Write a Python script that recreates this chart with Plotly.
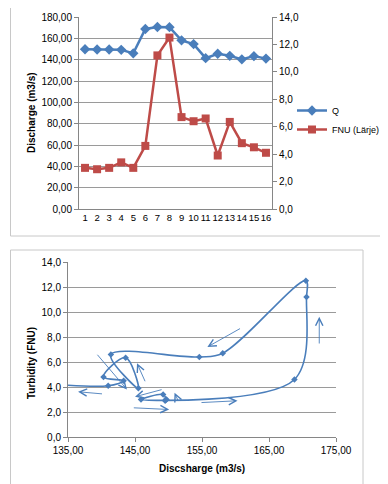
import plotly.graph_objects as go

# ---------------- data ----------------
samples = [1, 2, 3, 4, 5, 6, 7, 8, 9, 10, 11, 12, 13, 14, 15, 16]
q_discharge = [149.7, 149.5, 149.6, 149.2, 145.9, 168.8, 170.6, 170.5,
               158.1, 154.6, 141.4, 145.5, 143.6, 140.3, 143.3, 141.0]
fnu_larje = [3.0, 2.9, 3.0, 3.4, 3.0, 4.6, 11.2, 12.5,
             6.7, 6.4, 6.6, 3.9, 6.35, 4.8, 4.5, 4.1]
# following point of the hysteresis loop (outside the visible x-range)
q_next = [128.0]
fnu_next = [4.45]

# hand-drawn direction arrows on the hysteresis plot (tail -> head)
arrow_tail_q = [160.9, 172.5, 154.7, 151.5, 139.2, 140.3, 146.6, 149.2, 144.6]
arrow_tail_fnu = [8.74, 7.36, 2.75, 2.82, 6.7, 3.44, 4.34, 3.82, 2.34]
arrow_head_q = [155.8, 172.5, 160.3, 150.9, 143.8, 136.5, 145.3, 145.0, 150.1]
arrow_head_fnu = [7.2, 9.62, 2.9, 3.54, 3.8, 3.62, 5.9, 3.22, 2.2]

# the page body has an 8px default margin, so the figure is drawn
# 8px smaller and all screen positions are shifted by it
OFF = 8
W, H = 388 - OFF, 484 - OFF
BLUE = '#4A7EBB'
RED = '#BE4B48'
GRID = '#9a9a9a'
AXIS = '#868686'
FONT = 'Liberation Sans'


def fx(p):
    return (p - OFF) / W


def fy(p):
    return 1 - (p - OFF) / H


fig = go.Figure()

fig.add_trace(go.Scatter(
    x=samples, y=q_discharge, name='Q', mode='lines+markers',
    line=dict(color=BLUE, width=2.5),
    marker=dict(symbol='diamond', size=8, color=BLUE),
    xaxis='x', yaxis='y'))
fig.add_trace(go.Scatter(
    x=samples, y=fnu_larje, name='FNU (Lärje)', mode='lines+markers',
    line=dict(color=RED, width=2.5),
    marker=dict(symbol='square', size=8, color=RED),
    xaxis='x', yaxis='y2'))
fig.add_trace(go.Scatter(
    x=q_discharge + q_next, y=fnu_larje + fnu_next, mode='lines+markers',
    line=dict(color=BLUE, width=1.6, shape='spline', smoothing=1.0),
    marker=dict(symbol='diamond', size=5, color=BLUE),
    showlegend=False, xaxis='x3', yaxis='y3'))

tick_font = dict(family=FONT, size=10, color='#000000')

fig.update_layout(
    width=W, height=H,
    margin=dict(l=0, r=0, t=0, b=0, autoexpand=False),
    paper_bgcolor='white', plot_bgcolor='white',
    separators=', ',
    font=dict(family=FONT, size=10, color='#000000'),
    showlegend=True,
    legend=dict(x=fx(292), y=fy(96), xanchor='left', yanchor='top',
                font=dict(family=FONT, size=9), bgcolor='rgba(0,0,0,0)',
                tracegroupgap=0, itemwidth=30),
    xaxis=dict(domain=[fx(79), fx(272)], range=[0.5, 16.5], tickvals=samples,
               tickangle=0, showgrid=False, zeroline=False, showline=True,
               linecolor=AXIS, ticks='', automargin=False,
               tickfont=dict(family=FONT, size=9.5, color='#000000'),
               anchor='y', fixedrange=True),
    yaxis=dict(domain=[fy(209), fy(17)], range=[0, 180], dtick=20,
               tickformat='.2f', showgrid=True, gridcolor=GRID, gridwidth=1,
               zeroline=False, showline=True, linecolor=AXIS,
               ticks='outside', ticklen=4, tickcolor=AXIS, automargin=False,
               tickfont=tick_font, anchor='x'),
    yaxis2=dict(overlaying='y', side='right', range=[0, 14], dtick=2,
                tickformat='.1f', showgrid=False, zeroline=False,
                showline=True, linecolor=AXIS, ticks='outside', ticklen=4,
                tickcolor=AXIS, tickfont=tick_font, anchor='x',
                automargin=False),
    xaxis3=dict(domain=[fx(68), fx(336)], range=[135, 175], dtick=10,
                tick0=135, tickformat='.2f', showgrid=False, zeroline=False,
                showline=True, linecolor=AXIS, ticks='outside', ticklen=4,
                tickcolor=AXIS, tickfont=tick_font, anchor='y3',
                automargin=False),
    yaxis3=dict(domain=[fy(437), fy(262)], range=[0, 14], dtick=2,
                tickformat='.1f', showgrid=True, gridcolor=GRID, gridwidth=1,
                zeroline=False, showline=True, linecolor=AXIS,
                ticks='outside', ticklen=4, tickcolor=AXIS,
                tickfont=tick_font, anchor='x3', automargin=False),
)

# chart borders
fig.add_shape(type='rect', xref='paper', yref='paper',
              x0=fx(10.5), x1=fx(387), y0=fy(236), y1=fy(5),
              line=dict(color='#c8c8c8', width=1))
fig.add_shape(type='rect', xref='paper', yref='paper',
              x0=fx(10.5), x1=fx(363), y0=fy(490), y1=fy(250),
              line=dict(color='#c8c8c8', width=1))

# axis titles
fig.add_annotation(text='<b>Discharge (m3/s)</b>', xref='paper', yref='paper',
                   x=fx(31), y=fy(113), textangle=-90, showarrow=False,
                   font=dict(family=FONT, size=10), xanchor='center',
                   yanchor='middle')
fig.add_annotation(text='<b>Turbidity (FNU)</b>', xref='paper', yref='paper',
                   x=fx(31), y=fy(363), textangle=-90, showarrow=False,
                   font=dict(family=FONT, size=10), xanchor='center',
                   yanchor='middle')
fig.add_annotation(text='<b>Discsharge (m3/s)</b>', xref='paper', yref='paper',
                   x=fx(202), y=fy(468), showarrow=False,
                   font=dict(family=FONT, size=10), xanchor='center',
                   yanchor='middle')

# direction arrows
for tq, tf, hq, hf in zip(arrow_tail_q, arrow_tail_fnu, arrow_head_q,
                          arrow_head_fnu):
    fig.add_annotation(x=hq, y=hf, ax=tq, ay=tf, xref='x3', yref='y3',
                       axref='x3', ayref='y3', text='', showarrow=True,
                       arrowhead=5, arrowsize=1.6, arrowwidth=0.9,
                       arrowcolor=BLUE)

fig.write_html('out.html')
